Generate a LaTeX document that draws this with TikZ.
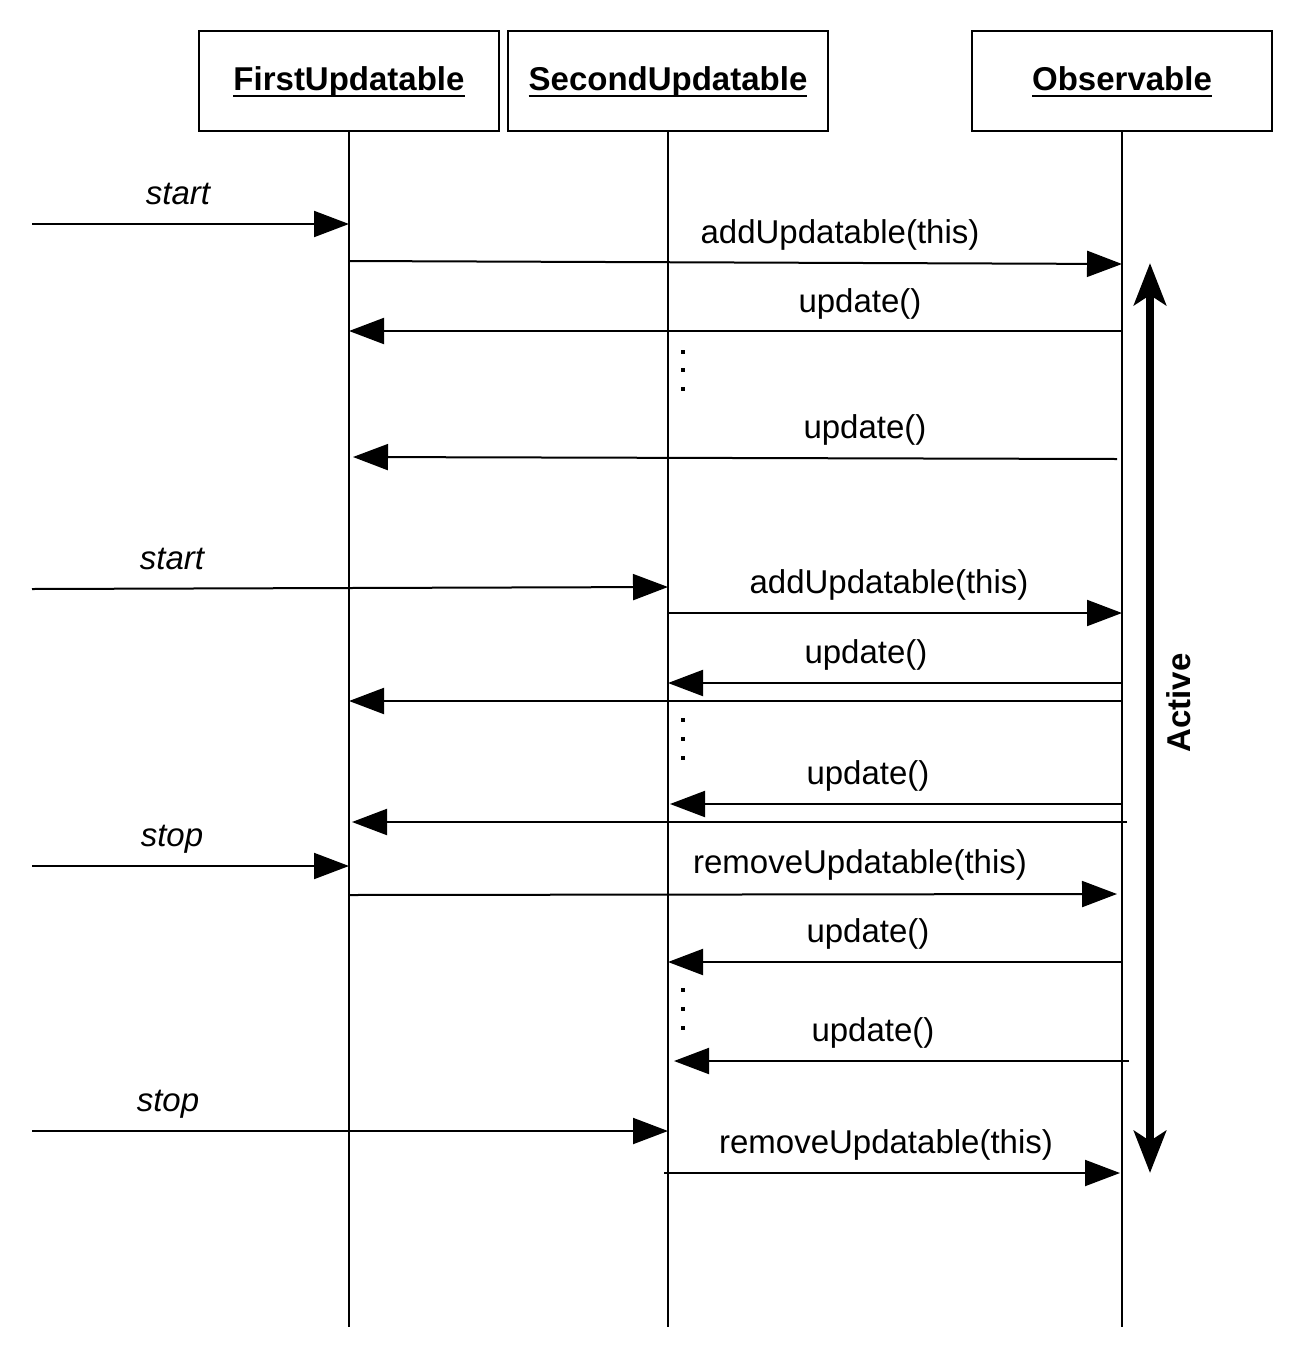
\documentclass[tikz,border=0pt]{standalone}
\usepackage{fontspec}
\setmainfont{Liberation Sans}
\usetikzlibrary{arrows.meta}
\newcommand\myul[1]{\setbox0\hbox{#1}\rlap{\rule[-6pt]{\wd0}{2pt}}\box0}
\begin{document}
\begin{tikzpicture}[x=1pt,y=-1pt,
  obj/.style={draw,line width=2pt,minimum height=100pt,inner sep=0pt,
    text height=26pt,text depth=7pt,
    font=\fontsize{33}{40}\selectfont\bfseries},
  life/.style={line width=2pt},
  msg/.style={line width=2pt,-{Triangle[length=35pt,width=26pt]}},
  lbl/.style={font=\fontsize{33}{40}\selectfont,anchor=base,inner sep=0pt},
  ilbl/.style={lbl,font=\fontsize{33}{40}\selectfont\itshape},
  dot/.style={fill=black,minimum size=3.5pt,inner sep=0pt,shape=rectangle},
  active/.style={line width=8pt,{Stealth[length=42pt,width=32pt,inset=10pt]}-{Stealth[length=42pt,width=32pt,inset=10pt]}}
]
\useasboundingbox (0,0) rectangle (1302,1355);
% objects
\node[obj,minimum width=300pt] (FU) at (349,81) {\myul{FirstUpdatable}};
\node[obj,minimum width=320pt] (SU) at (668,81) {\myul{SecondUpdatable}};
\node[obj,minimum width=300pt] (OB) at (1122,81) {\myul{Observable}};
% lifelines
\coordinate (FUend) at (349,1327);
\coordinate (SUend) at (668,1327);
\coordinate (OBend) at (1122,1327);
\draw[life] (FU.south) -- (FUend);
\draw[life] (SU.south) -- (SUend);
\draw[life] (OB.south) -- (OBend);
% messages
\draw[msg] (32,224) -- (349,224);
\node[ilbl] (l1) at (178,204) {start};
\draw[msg] (349,261) -- (1122,264);
\node[lbl] (l2) at (840,243) {addUpdatable(this)};
\draw[msg] (1122,331) -- (349,331);
\node[lbl] (l3) at (860,312) {update()};
\node[dot] (d1) at (683,352) {};
\node[dot] (d2) at (683,370) {};
\node[dot] (d3) at (683,389) {};
\draw[msg] (1117,459) -- (353,457);
\node[lbl] (l4) at (865,438) {update()};
\draw[msg] (32,589) -- (668,587);
\node[ilbl] (l5) at (172,569) {start};
\draw[msg] (668,613) -- (1122,613);
\node[lbl] (l6) at (889,593) {addUpdatable(this)};
\draw[msg] (1122,683) -- (668,683);
\node[lbl] (l7) at (866,663) {update()};
\draw[msg] (1122,701) -- (349,701);
\node[dot] (d4) at (683,720) {};
\node[dot] (d5) at (683,739) {};
\node[dot] (d6) at (683,758) {};
\draw[msg] (1122,804) -- (670,804);
\node[lbl] (l8) at (868,784) {update()};
\draw[msg] (1127,822) -- (352,822);
\draw[msg] (32,866) -- (349,866);
\node[ilbl] (l9) at (172,846) {stop};
\draw[msg] (349,895) -- (1117,894);
\node[lbl] (l10) at (860,873) {removeUpdatable(this)};
\draw[msg] (1122,962) -- (668,962);
\node[lbl] (l11) at (868,942) {update()};
\node[dot] (d7) at (683,990) {};
\node[dot] (d8) at (683,1009) {};
\node[dot] (d9) at (683,1028) {};
\draw[msg] (1129,1061) -- (674,1061);
\node[lbl] (l12) at (873,1041) {update()};
\draw[msg] (32,1131) -- (668,1131);
\node[ilbl] (l13) at (168,1111) {stop};
\draw[msg] (664,1173) -- (1120,1173);
\node[lbl] (l14) at (886,1153) {removeUpdatable(this)};
% active
\coordinate (A1) at (1150,263);
\coordinate (A2) at (1150,1173);
\draw[active] (A1) -- (A2);
\node[font=\fontsize{33}{40}\selectfont\bfseries,rotate=90,inner sep=0pt] (act) at (1179,703) {Active};
\end{tikzpicture}
\end{document}
